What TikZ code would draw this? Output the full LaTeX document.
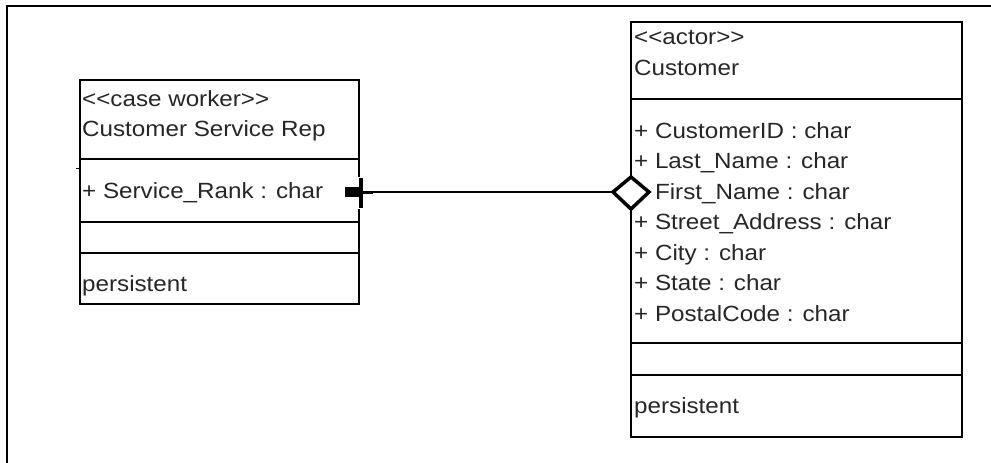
\documentclass[tikz,border=0pt]{standalone}
\usepackage{fontspec}
\setmainfont{Liberation Sans}[FakeStretch=1.1]
\begin{document}
\begin{tikzpicture}[x=1pt,y=-1pt,
  box/.style={draw=black,line width=1.5pt},
  sep/.style={draw=black,line width=1.5pt},
  txt/.style={anchor=base west,inner sep=0pt,font=\fontsize{22}{24}\selectfont,text=black!85},
  conn/.style={draw=black,line width=1.5pt}]
\useasboundingbox (0,0) rectangle (991,463);
% outer frame (top and left edges only visible)
\draw[line width=2.5pt] (7,463) -- (7,6) -- (991,6);

% left class
\node[box,minimum width=279pt,minimum height=224pt,inner sep=0pt,anchor=north west] (csr) at (79,79) {};
\draw[sep] (79,159) -- (358,159);
\draw[sep] (79,222) -- (358,222);
\draw[sep] (79,253) -- (358,253);
\node[txt] (csr1) at (82,106) {<{}<case worker>{}>};
\node[txt] (csr2) at (82,136) {Customer Service Rep};
\node[txt] (csr3) at (82,198) {+ Service\_Rank : char};
\node[txt] (csr4) at (82,291) {persistent};
\draw[line width=1pt] (76,168) -- (79,168);

% right class
\node[box,minimum width=331pt,minimum height=415pt,inner sep=0pt,anchor=north west] (cust) at (630,21) {};
\draw[sep] (630,99) -- (961,99);
\draw[sep] (630,343) -- (961,343);
\draw[sep] (630,375) -- (961,375);
\node[txt] (c1) at (634,44) {<{}<actor>{}>};
\node[txt] (c2) at (634,75) {Customer};
\node[txt] (a1) at (634,138) {+ CustomerID : char};
\node[txt] (a2) at (634,168.5) {+ Last\_Name : char};
\node[txt] (a3) at (634,199) {+ First\_Name : char};
\node[txt] (a4) at (634,229.5) {+ Street\_Address : char};
\node[txt] (a5) at (634,260) {+ City : char};
\node[txt] (a6) at (634,290.5) {+ State : char};
\node[txt] (a7) at (634,321) {+ PostalCode : char};
\node[txt] (c3) at (634,413) {persistent};

% connector
\coordinate (pL) at (359,192);
\coordinate (pR) at (631,192);
\draw[conn] (pL) -- (pR);
% left end: plus marker (white halo, then black cross)
\draw[white,line width=7pt] (361,177) -- (361,209);
\draw[white,line width=12pt] (345,192) -- (358,192);
\draw[line width=4.5pt] (361,178) -- (361,208);
\fill[black] (345,187) rectangle (361,197);
\draw[line width=3pt] (373,192) -- (361,192);
% right end: hollow diamond
\draw[line width=3.5pt,fill=white,line join=miter] (613,192) -- (631,177) -- (649,192) -- (631,209) -- cycle;
\end{tikzpicture}
\end{document}
